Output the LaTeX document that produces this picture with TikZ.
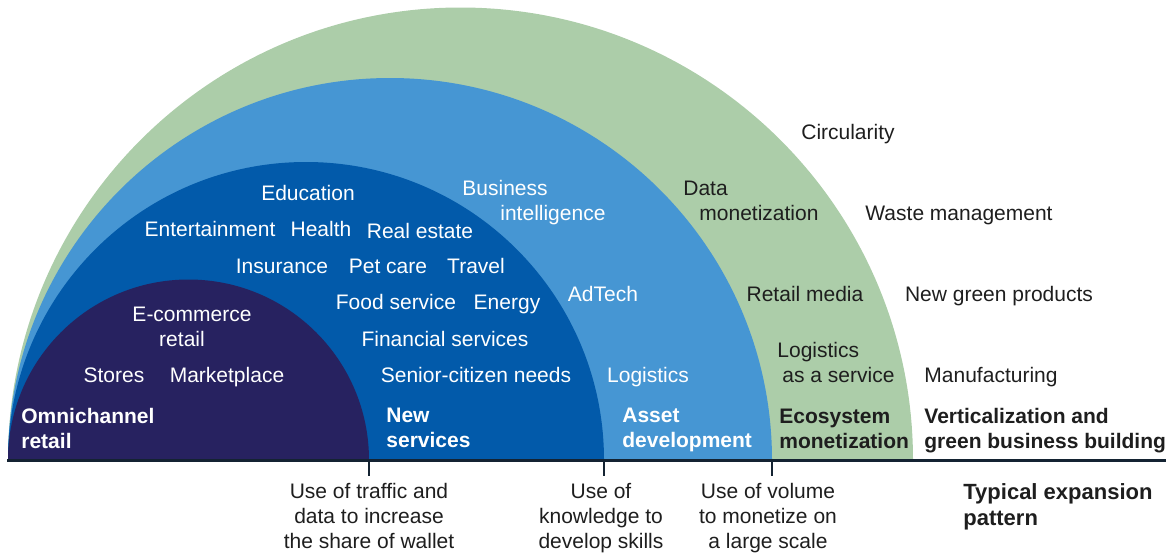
\documentclass[tikz,border=0pt]{standalone}
\usepackage{fontspec}
\setmainfont{Liberation Sans}
\usepackage{tikz}
\usetikzlibrary{positioning}

\definecolor{sage}{RGB}{172,205,169}
\definecolor{assetblue}{RGB}{70,150,211}
\definecolor{serviceblue}{RGB}{2,90,170}
\definecolor{retailnavy}{RGB}{39,34,96}
\definecolor{inkdark}{RGB}{30,30,30}
\definecolor{axisnavy}{RGB}{20,35,50}

\tikzstyle{item} = [inner sep=0pt, anchor=base, font=\fontsize{10.5}{12.4}\selectfont]
\tikzstyle{inner} = [item, text=white]
\tikzstyle{outer} = [item, text=inkdark]
\tikzstyle{stage} = [item, anchor=base west, align=left, font=\fontsize{10.5}{12.4}\selectfont\bfseries]
\tikzstyle{note} = [item, align=center, text=inkdark]
\tikzstyle{tick} = [draw=axisnavy, line width=1pt]

\begin{document}
\begin{tikzpicture}[x=0.5pt, y=0.5pt]
\useasboundingbox (0,-93) rectangle (1166,460);

% Half discs, largest first
\fill[sage] (8,0) arc[start angle=180, end angle=0, radius=226.25pt] -- cycle;
\fill[assetblue] (8,0) arc[start angle=180, end angle=0, radius=191pt] -- cycle;
\fill[serviceblue] (8,0) arc[start angle=180, end angle=0, radius=149pt] -- cycle;
\fill[retailnavy] (8,0) arc[start angle=180, end angle=0, radius=90.25pt] -- cycle;

% Axis and ticks
\coordinate (axisL) at (7,0);
\coordinate (axisR) at (1166,0);
\coordinate (tickA) at (369,0);
\coordinate (tickB) at (604,0);
\coordinate (tickC) at (772,0);
\draw[draw=axisnavy, line width=1.5pt] (axisL) -- (axisR);
\draw[tick] (tickA) -- ++(0,-16);
\draw[tick] (tickB) -- ++(0,-16);
\draw[tick] (tickC) -- ++(0,-16);

% Omnichannel retail (multi-line nodes sit on their last line)
\node (ecom) [inner, align=center] at (192,114) {E-commerce\\\hspace*{-10pt}retail};
\node (stores) [inner] at (114,78) {Stores};
\node (market) [inner] at (227,78) {Marketplace};
\node (omni) [stage, text=white] at (21,12) {Omnichannel\\retail};

% New services
\node (edu) [inner] at (308,260) {Education};
\node (enter) [inner] at (210,224) {Entertainment};
\node (health) [inner] at (321,224) {Health};
\node (estate) [inner] at (420,222) {Real estate};
\node (insur) [inner] at (282,187) {Insurance};
\node (pet) [inner] at (388,187) {Pet care};
\node (travel) [inner] at (476,187) {Travel};
\node (food) [inner] at (396,151) {Food service};
\node (energy) [inner] at (507,151) {Energy};
\node (fin) [inner] at (445,114) {Financial services};
\node (senior) [inner] at (476,78) {Senior-citizen needs};
\node (newserv) [stage, text=white] at (386,13) {New\\services};

% Asset development
\node (bi) [inner, anchor=base west, align=left] at (462,240) {Business\\\hspace*{19pt}intelligence};
\node (adtech) [inner] at (603,159) {AdTech};
\node (logi) [inner] at (648,78) {Logistics};
\node (asset) [stage, text=white] at (622,13) {Asset\\development};

% Ecosystem monetization
\node (datamon) [outer, anchor=base west, align=left] at (683,240) {Data\\\hspace*{8pt}monetization};
\node (rmedia) [outer] at (805,159) {Retail media};
\node (laas) [outer, anchor=base west, align=left] at (777,78) {Logistics\\\hspace*{2.5pt}as a service};
\node (eco) [stage, text=inkdark] at (779,12) {Ecosystem\\monetization};

% Verticalization and green business building
\node (circ) [outer] at (848,321) {Circularity};
\node (waste) [outer] at (959,240) {Waste management};
\node (green) [outer] at (999,159) {New green products};
\node (manu) [outer] at (991,78) {Manufacturing};
\node (vert) [stage, text=inkdark] at (924,12) {Verticalization and\\green business building};

% Below the axis
\node (useA) [note] at (369,-88) {Use of traffic and\\data to increase\\the share of wallet};
\node (useB) [note] at (601,-88) {Use of\\knowledge to\\develop skills};
\node (useC) [note] at (768,-88) {Use of volume\\to monetize on\\a large scale};
\node (typ) [stage, text=inkdark, font=\fontsize{11}{12.6}\selectfont\bfseries] at (963,-65) {Typical expansion\\pattern};

\end{tikzpicture}
\end{document}
